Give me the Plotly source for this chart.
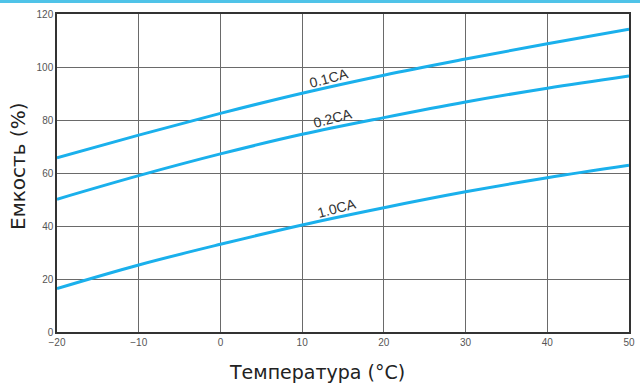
import plotly.graph_objects as go

temperature = [-20, -10, 0, 10, 20, 30, 40, 50]
cap_01 = [65.7, 74.3, 82.5, 90.1, 96.9, 103.0, 108.8, 114.3]
cap_02 = [50.1, 59.0, 67.2, 74.6, 80.9, 86.8, 92.0, 96.6]
cap_10 = [16.4, 25.3, 33.1, 40.4, 46.9, 52.9, 58.2, 62.9]
series_names = ["0.1CA", "0.2CA", "1.0CA"]
x_ticks = [-20, -10, 0, 10, 20, 30, 40, 50]
y_ticks = [0, 20, 40, 60, 80, 100, 120]

line_color = "#1ab0ec"
fig = go.Figure()
for name, vals in zip(series_names, [cap_01, cap_02, cap_10]):
    fig.add_trace(go.Scatter(x=temperature, y=vals, mode="lines", name=name,
                             line=dict(color=line_color, width=3, shape="spline", smoothing=1.0),
                             showlegend=False))

# curve labels
label_pos = [(13.3, 96.0, "0.1CA"), (13.8, 80.6, "0.2CA"), (14.3, 46.8, "1.0CA")]
for x, y, t in label_pos:
    fig.add_annotation(x=x, y=y, text=t, showarrow=False, textangle=-15,
                       font=dict(family="Liberation Sans, Arial", size=14, color="#333"))

# axis titles
fig.add_annotation(xref="paper", yref="paper", x=0.5, y=0, xshift=-26, yshift=-40,
                   xanchor="center", yanchor="middle",
                   text="Температура (°С)", showarrow=False,
                   font=dict(family="DejaVu Sans", size=19, color="#222"))
fig.add_annotation(xref="paper", yref="paper", x=0, y=0.5, xshift=-39, yshift=6,
                   xanchor="center", yanchor="middle",
                   text="Емкость (%)", showarrow=False, textangle=-90,
                   font=dict(family="DejaVu Sans", size=20, color="#222"))

grid = "#6a6a6a"
tick_font = dict(family="Liberation Sans Narrow, Liberation Sans", size=10, color="#555")
fig.update_xaxes(range=[-20, 50], tickvals=x_ticks, showgrid=True, gridcolor=grid, gridwidth=1.3,
                 showline=True, linecolor="#333", linewidth=1.5, mirror=True, zeroline=False,
                 ticks="", tickfont=tick_font, automargin=False)
fig.update_yaxes(range=[0, 120], tickvals=y_ticks, showgrid=True, gridcolor=grid, gridwidth=1.3,
                 showline=True, linecolor="#333", linewidth=1.5, mirror=True, zeroline=False,
                 ticks="", tickfont=tick_font, automargin=False)

fig.update_layout(width=640, height=385, margin=dict(l=57, r=11, t=14, b=53, autoexpand=False),
                  paper_bgcolor="white", plot_bgcolor="white",
                  shapes=[dict(type="line", xref="paper", yref="paper", x0=-0.2, x1=1.1,
                               y0=1.0395, y1=1.0395, line=dict(color="#4fc3e8", width=3))])
fig.write_html("out.html", config={"displayModeBar": False},
               post_script="document.body.style.margin='0';document.body.style.overflow='hidden';")
